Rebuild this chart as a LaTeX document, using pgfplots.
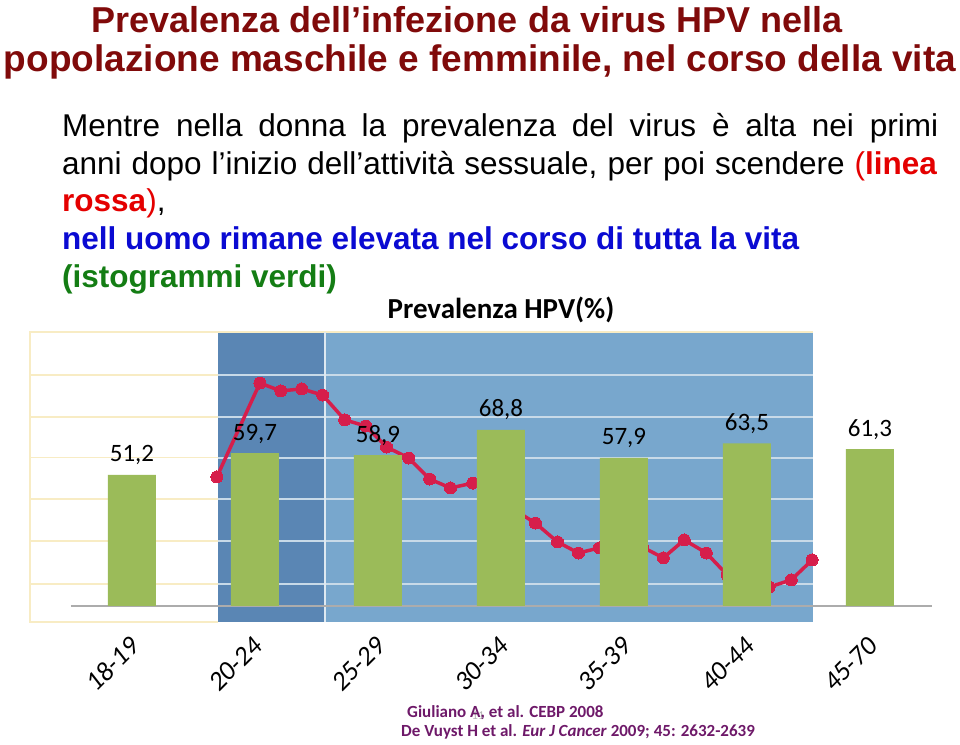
\documentclass[border=0pt]{standalone}
\usepackage{fontspec}
\setmainfont{Liberation Sans}
\newfontfamily\calibri{Carlito}
\usepackage{pgfplots}
\pgfplotsset{compat=1.18}

\definecolor{titlered}{RGB}{128,10,10}
\definecolor{textred}{RGB}{228,0,0}
\definecolor{textblue}{RGB}{10,10,210}
\definecolor{textgreen}{RGB}{20,125,20}
\definecolor{darkblue}{RGB}{90,134,180}
\definecolor{lightblue}{RGB}{120,167,205}
\definecolor{cream}{RGB}{248,236,196}
\definecolor{gridblue}{RGB}{200,218,232}
\definecolor{bargreen}{RGB}{155,187,89}
\definecolor{linered}{RGB}{214,30,75}
\definecolor{citepurple}{RGB}{110,25,105}

\pgfplotsset{hpvframe/.style={
  at={(30bp,123bp)}, anchor=south west,
  scale only axis, width=900bp, height=290bp,
  xmin=-0.829, xmax=6.488, ymin=-6.25, ymax=107.03,
  clip=false,
}}

\begin{document}
\begin{tikzpicture}
\path[use as bounding box] (0,0) rectangle (960bp,745bp);

% slide title and text
\node[anchor=base, inner sep=0pt, text=titlered, font=\fontsize{36bp}{43bp}\selectfont\bfseries]
  at (467bp,712bp) {Prevalenza dell’infezione da virus HPV nella};
\node[anchor=base, inner sep=0pt, text=titlered, font=\fontsize{37bp}{43bp}\selectfont\bfseries]
  at (480bp,673bp) {popolazione maschile e femminile, nel corso della vita};

\node[anchor=base west, inner sep=0pt, font=\fontsize{31.5bp}{37bp}\selectfont] at (62bp,608bp)
  {\makebox[876bp][s]{Mentre nella donna la prevalenza del virus è alta nei primi}};
\node[anchor=base west, inner sep=0pt, font=\fontsize{31.5bp}{37bp}\selectfont] at (62bp,570bp)
  {\makebox[875bp][s]{anni dopo l’inizio dell’attività sessuale, per poi scendere \textcolor{textred}{(\textbf{linea}}}};
\node[anchor=base west, inner sep=0pt, font=\fontsize{31.5bp}{37bp}\selectfont] at (62bp,533bp)
  {\textcolor{textred}{\textbf{rossa})},};
\node[anchor=base west, inner sep=0pt, text=textblue, font=\fontsize{31.5bp}{37bp}\selectfont\bfseries] at (62bp,495bp)
  {nell uomo rimane elevata nel corso di tutta la vita};
\node[anchor=base west, inner sep=0pt, text=textgreen, font=\fontsize{31.5bp}{37bp}\selectfont\bfseries] at (62bp,457bp)
  {(istogrammi verdi)};

\node[anchor=base, inner sep=0pt, font=\calibri\fontsize{29bp}{34bp}\selectfont\bfseries]
  at (501bp,426bp) {Prevalenza HPV(\%)};

% back axis: pasted line chart for women
\begin{axis}[hpvframe, hide axis]
\fill[white] (axis cs:-0.829,-6.25) rectangle (axis cs:0.699,107.03);
\draw[cream, line width=1.5bp] (axis cs:0.699,107.03) -- (axis cs:-0.829,107.03) -- (axis cs:-0.829,-6.25) -- (axis cs:0.699,-6.25);
\fill[darkblue] (axis cs:0.699,-6.25) rectangle (axis cs:1.569,107.03);
\fill[lightblue] (axis cs:1.569,-6.25) rectangle (axis cs:5.537,107.03);
\draw[cream, line width=1.5bp] (axis cs:0.699,107.03) -- (axis cs:5.537,107.03);
\pgfplotsinvokeforeach{90.2,73.8,58.0,41.8,25.4,8.6}{
  \draw[cream, line width=1.5bp] (axis cs:-0.829,#1) -- (axis cs:0.699,#1);
  \draw[gridblue, line width=2bp] (axis cs:0.699,#1) -- (axis cs:5.537,#1);
}
\draw[gridblue!60!white, line width=2bp] (axis cs:1.569,-6.25) -- (axis cs:1.569,107.03);
\draw[gray!65, line width=1.2bp] (axis cs:-0.496,0) -- (axis cs:6.504,0);

\addplot[color=linered, line width=3.5bp, mark=*, mark size=6bp,
  mark options={fill=linered, draw=linered, line width=0pt}] coordinates {
  (0.69,50.4) (1.04,87.1) (1.21,84.0) (1.38,84.8) (1.55,82.4)
  (1.73,72.7) (1.90,70.3) (2.07,62.1) (2.25,57.8) (2.42,49.6) (2.59,46.1)
  (2.77,48.0) (2.94,43.0) (3.11,37.5) (3.28,32.4) (3.46,25.0) (3.63,20.7)
  (3.80,22.7) (3.98,23.0) (4.15,23.0) (4.32,18.8) (4.49,25.8) (4.67,20.7)
  (4.84,12.1) (5.01,8.2) (5.18,7.4) (5.36,10.2) (5.53,18.0)
};
\end{axis}

% front axis: bars for men
\begin{axis}[hpvframe,
  axis line style={draw=none}, tick style={draw=none},
  ytick=\empty,
  xtick={-0.16,0.84,1.84,2.84,3.84,4.84,5.84},
  xticklabels={18-19,20-24,25-29,30-34,35-39,40-44,45-70},
  xticklabel style={rotate=45, anchor=center, inner sep=0pt,
    font=\calibri\itshape\fontsize{27bp}{31bp}\selectfont},
  xticklabel shift=42bp,
]
\addplot[ybar, bar width=0.39, bar shift=0, fill=bargreen, draw=none,
  nodes near coords={\pgfmathprintnumber[use comma,fixed,fixed zerofill,precision=1,assume math mode=true]{\pgfplotspointmeta}},
  every node near coord/.append style={anchor=base, yshift=13bp, inner sep=0pt,
    font=\calibri\fontsize{25bp}{30bp}\selectfont}] coordinates {
  (0,51.2) (1,59.7) (2,58.9) (3,68.8) (4,57.9) (5,63.5) (6,61.3)
};
\end{axis}

% references
\node[anchor=base, inner sep=0pt, text=gray!60, font=\calibri\fontsize{12bp}{14bp}\selectfont]
  at (478bp,26bp) {11};
\node[anchor=base west, inner sep=0pt, text=citepurple, font=\calibri\fontsize{17bp}{20bp}\selectfont\bfseries]
  at (407bp,28bp) {Giuliano A, et al. CEBP 2008};
\node[anchor=base west, inner sep=0pt, text=citepurple, font=\calibri\fontsize{17bp}{20bp}\selectfont\bfseries]
  at (401bp,9bp) {De Vuyst H et al. \textit{Eur J Cancer} 2009; 45: 2632-2639};
\end{tikzpicture}
\end{document}
